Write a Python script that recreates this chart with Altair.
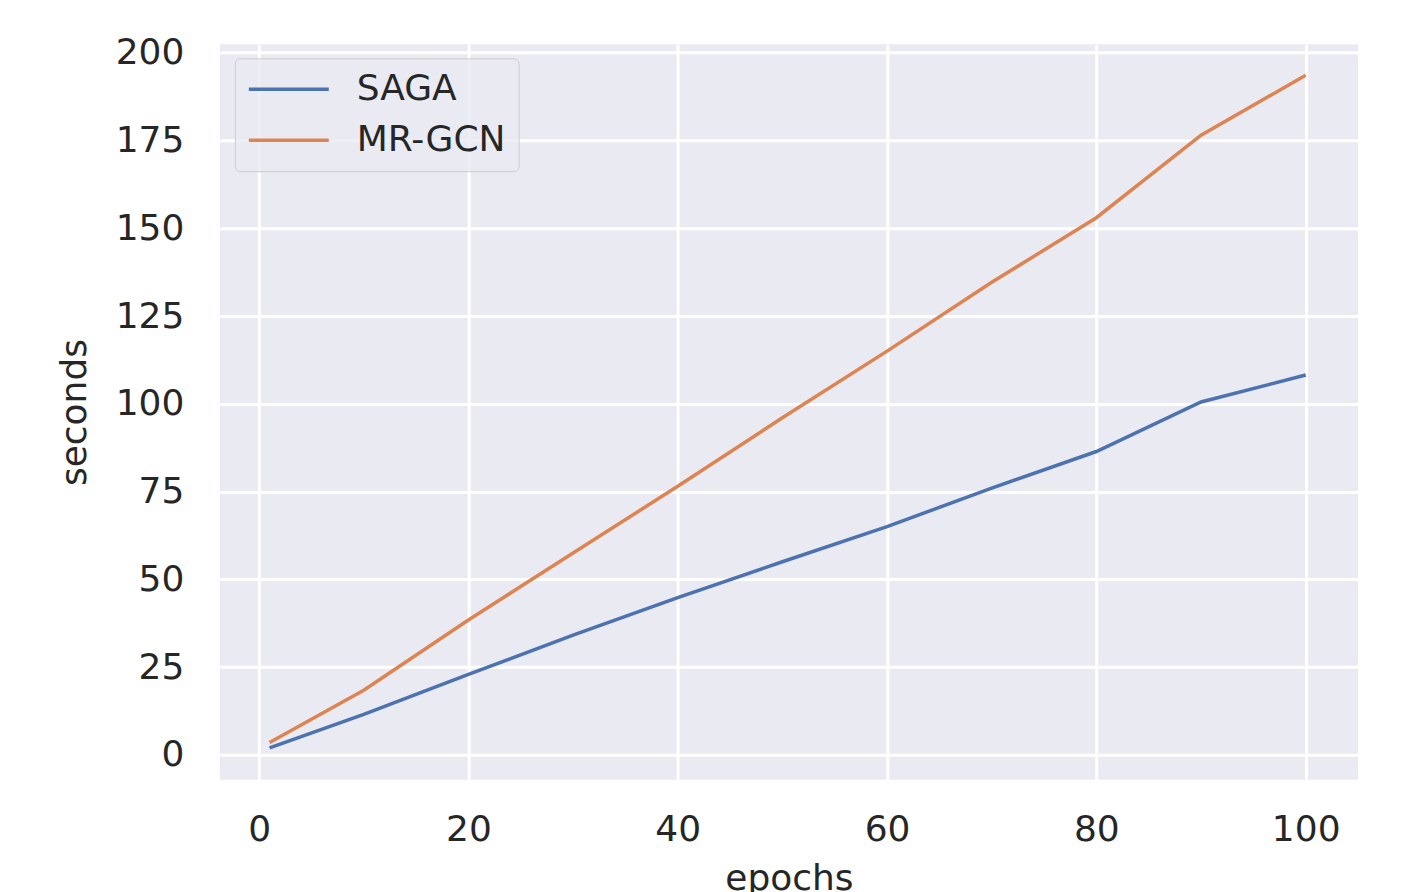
import altair as alt
import pandas as pd

epochs = [1, 10, 20, 30, 40, 50, 60, 70, 80, 90, 100]
saga = [2.0, 11.5, 22.9, 34.1, 44.8, 55.0, 65.0, 76.0, 86.4, 100.5, 108.2]
mrgcn = [3.5, 18.4, 38.4, 57.5, 76.5, 96.0, 115.0, 134.6, 153.0, 176.5, 193.6]
series = ["SAGA", "MR-GCN"]
colors = ["#4C72B0", "#DD8452"]
x_ticks = [0, 20, 40, 60, 80, 100]
y_ticks = [0, 25, 50, 75, 100, 125, 150, 175, 200]

rows = []
for name, vals in zip(series, [saga, mrgcn]):
    for e, v in zip(epochs, vals):
        rows.append({"epochs": e, "seconds": v, "method": name})
df = pd.DataFrame(rows)

FONT = "DejaVu Sans"
TXT = "#262626"

chart = alt.Chart(df).mark_line(strokeWidth=3.5).encode(
    x=alt.X("epochs:Q",
            scale=alt.Scale(domain=[-3.75, 105], nice=False, zero=False),
            axis=alt.Axis(values=x_ticks, title="epochs", grid=True, gridColor="white",
                          gridWidth=3, domain=False, ticks=False, tickSize=0,
                          labelFontSize=36, labelFont=FONT, labelColor=TXT,
                          labelPadding=33, titleFontSize=36, titleFont=FONT,
                          titleColor=TXT, titleFontWeight="normal", titlePadding=14)),
    y=alt.Y("seconds:Q",
            scale=alt.Scale(domain=[-7.1, 202.4], nice=False, zero=False),
            axis=alt.Axis(values=y_ticks, title="seconds", grid=True, gridColor="white",
                          gridWidth=3, domain=False, ticks=False, tickSize=0,
                          labelFontSize=36, labelFont=FONT, labelColor=TXT,
                          labelPadding=36, titleFontSize=36, titleFont=FONT,
                          titleColor=TXT, titleFontWeight="normal", titlePadding=22)),
    color=alt.Color("method:N",
                    scale=alt.Scale(domain=series, range=colors),
                    sort=series,
                    legend=alt.Legend(orient="none", legendX=15, legendY=14, title=None,
                                      symbolType="M-4,0L4,0", symbolSize=400,
                                      symbolStrokeWidth=3.5, symbolOffset=23,
                                      labelOffset=50, labelFontSize=36, labelFont=FONT,
                                      labelColor=TXT, labelLimit=400, padding=13,
                                      rowPadding=15, fillColor="rgba(234,234,242,0.8)",
                                      strokeColor="#cccccc", cornerRadius=5)),
).properties(
    width=1139, height=736,
    padding={"left": 212, "top": 36, "right": 40, "bottom": 120},
    autosize="none",
).configure(
    background="white"
).configure_view(
    fill="#EAEAF2", strokeWidth=0
)

chart.save("out.html", embed_options={"renderer": "svg", "actions": False})
